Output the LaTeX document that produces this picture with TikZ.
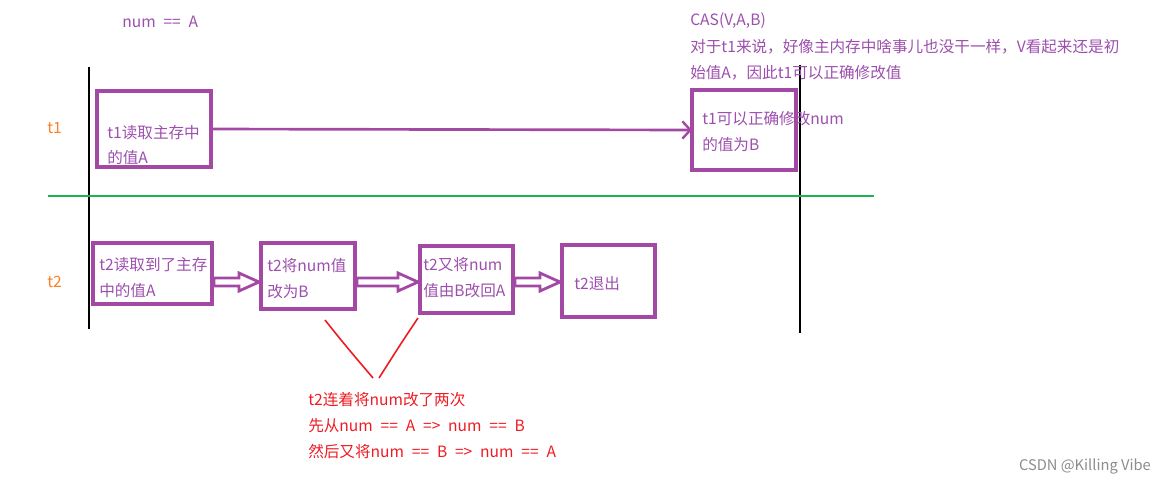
\documentclass[tikz,border=0pt]{standalone}
\usepackage{fontspec}
\setmainfont{Noto Sans CJK SC}
\usetikzlibrary{arrows.meta,calc}
\definecolor{purp}{HTML}{A349A4}
\definecolor{ptxt}{HTML}{9C4FAD}
\definecolor{orng}{HTML}{FF7F27}
\definecolor{grn}{HTML}{22B14C}
\definecolor{rd}{HTML}{ED1C24}
\definecolor{wm}{HTML}{8C8C8C}
\newcommand\mytxtfont{\fontsize{11.7pt}{14pt}\selectfont\spaceskip 0.5em\relax}
\tikzset{
  box/.style={draw=purp, line width=2.3pt, anchor=north west, inner sep=0, outer sep=0},
  txt/.style={font=\mytxtfont, text=ptxt, inner sep=0, anchor=west, text height=10pt, text depth=2pt},
  lbl/.style={txt, text=orng},
  rtxt/.style={txt, text=rd},
  timeline/.style={line width=2.2pt, black},
  hollowarrow/.style={draw=purp, line width=2.1pt, line join=miter},
}
\newcommand\hollowarr[3]{%
  \draw[hollowarrow] let \p1=(#1.east), \p2=(#2.west), \p3=(0,#3) in
    ({\x1+1.5pt},{\y3+3pt}) -- ({\x2-16.5pt},{\y3+3pt}) -- ({\x2-16.5pt},{\y3+6.75pt})
    -- ({\x2-1.5pt},\y3) -- ({\x2-16.5pt},{\y3-6.75pt}) -- ({\x2-16.5pt},{\y3-3pt})
    -- ({\x1+1.5pt},{\y3-3pt}) -- cycle;}
\begin{document}
\begin{tikzpicture}[x=0.75pt,y=-0.75pt]
\useasboundingbox (0,0) rectangle (1166,486);
% timelines
\coordinate (lt) at (89,67); \coordinate (lb) at (89,329);
\coordinate (rt) at (800,65); \coordinate (rb) at (800,333);
\draw[timeline] (lt) -- (lb);
\draw[timeline] (rt) -- (rb);
\coordinate (gl) at (48,196); \coordinate (gr) at (874,196);
\draw[grn, line width=2.2pt] (gl) -- (gr);
% labels
\node[txt] (numA) at (122,22) {num == A};
\node[lbl] (t1) at (47,128) {t1};
\node[lbl] (t2) at (47,282) {t2};
\node[txt] (cas1) at (690,20) {CAS(V,A,B)};
\node[txt] (cas2) at (690,47) {对于t1来说，好像主内存中啥事儿也没干一样，V看起来还是初};
\node[txt] (cas3) at (690,73) {始值A，因此t1可以正确修改值};
% t1 boxes
\node[box, minimum width=85.5pt, minimum height=57pt] (b1) at (97,91) {};
\node[txt] at (107,133) {t1读取主存中};
\node[txt] at (107,158) {的值A};
\node[box, minimum width=78pt, minimum height=60pt] (bR) at (692,90) {};
\node[txt] at (702,119) {t1可以正确修改num};
\node[txt] at (702,145) {的值为B};
\draw[purp, line width=2pt, -{Straight Barb[length=6pt,width=13pt,line width=1.8pt]}] (b1.east) -- (bR.west);
% t2 boxes
\node[box, minimum width=89.25pt, minimum height=45.75pt] (bA) at (93,243) {};
\node[txt] at (99,265) {t2读取到了主存};
\node[txt] at (99,291) {中的值A};
\node[box, minimum width=70.5pt, minimum height=49.5pt] (bB) at (261,243) {};
\node[txt] at (267,266) {t2将num值};
\node[txt] at (267,292) {改为B};
\node[box, minimum width=69.75pt, minimum height=50.25pt] (bC) at (420,246) {};
\node[txt] at (423,265) {t2又将num};
\node[txt] at (423,291) {值由B改回A};
\node[box, minimum width=69.75pt, minimum height=54pt] (bD) at (562,245) {};
\node[txt] at (574,284) {t2退出};
\hollowarr{bA}{bB}{282}
\hollowarr{bB}{bC}{282}
\hollowarr{bC}{bD}{282}
% red note
\coordinate (v1) at (325,320); \coordinate (v2) at (373,378);
\coordinate (v3) at (418,318); \coordinate (v4) at (379,378);
\draw[rd, line width=1.2pt] (v1) .. controls (345,345) .. (v2);
\draw[rd, line width=1.2pt] (v3) .. controls (400,345) .. (v4);
\node[rtxt] (r1) at (308,400) {t2连着将num改了两次};
\node[rtxt] (r2) at (308,426) {先从num == A => num == B};
\node[rtxt] (r3) at (308,452) {然后又将num == B => num == A};
% watermark
\node[font=\fontsize{11pt}{13pt}\selectfont, text=wm, anchor=east, inner sep=0] (wmk) at (1151,466) {CSDN @Killing Vibe};
\end{tikzpicture}
\end{document}
